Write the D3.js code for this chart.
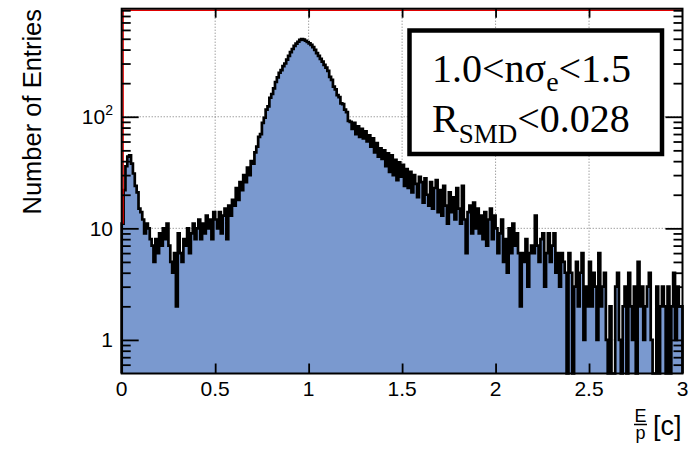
<!DOCTYPE html>
<html>
<head>
<meta charset="utf-8">
<script src="https://cdn.jsdelivr.net/npm/d3@7"></script>
<style>
  body { margin: 0; background: #fff; }
  svg { display: block; }
</style>
</head>
<body>
<svg id="chart" width="693" height="451"></svg>
<script>
// histogram: 300 bins of width 0.01 from 0 to 3
var xMin = 0, xMax = 3, binWidth = 0.01;

// bins 0 - 59  (E/p 0.00 - 0.60)
var countsLow = [
  11, 22, 36, 44, 45, 38, 31, 24, 21, 15,
  14, 12, 9, 11, 10, 8, 7, 5, 8, 6,
  9, 7, 10, 8, 11, 7, 5, 4, 6, 2,
  9, 6, 5, 8, 7, 10, 6, 9, 11, 8,
  10, 12, 8, 11, 9, 13, 10, 12, 8, 14,
  12, 10, 14, 9, 13, 15, 8, 16, 13, 18
];
// bins 60 - 139  (E/p 0.60 - 1.40)
var countsPeak = [
  16, 23, 18, 26, 22, 30, 26, 35, 30, 40,
  38, 48, 54, 66, 70, 88, 98, 116, 124, 148,
  160, 180, 205, 225, 248, 262, 284, 300, 325, 352,
  380, 405, 432, 452, 470, 488, 497, 492, 480, 468,
  455, 440, 420, 398, 372, 352, 330, 312, 292, 276,
  258, 228, 214, 186, 176, 156, 150, 132, 130, 116,
  110, 92, 90, 78, 88, 70, 82, 66, 78, 64,
  74, 60, 68, 54, 64, 48, 58, 44, 52, 42
];
// bins 140 - 299  (E/p 1.40 - 3.00)
var countsTail = [
  50, 36, 47, 32, 45, 30, 41, 27, 39, 29,
  37, 24, 34, 23, 32, 21, 30, 25, 19, 29,
  26, 17, 28, 20, 16, 26, 15, 23, 27, 14,
  22, 13, 24, 16, 11, 21, 14, 19, 12, 23,
  15, 11, 24, 12, 6, 14, 16, 9, 17, 10,
  15, 9, 13, 8, 14, 7, 12, 15, 8, 13,
  10, 6, 9, 12, 5, 8, 4, 10, 6, 11,
  7, 9, 6, 2, 6, 5, 8, 3, 6, 7,
  6, 13, 7, 5, 8, 9, 3, 6, 9, 5,
  7, 9, 4, 6, 3, 6, 5, 4, 0, 6,
  4, 0, 3, 5, 2, 4, 6, 1, 3, 2,
  5, 2, 4, 3, 1, 6, 2, 3, 4, 1,
  0, 2, 0, 0, 3, 4, 1, 0, 2, 3,
  0, 4, 2, 1, 3, 0, 5, 2, 3, 1,
  2, 3, 4, 1, 0, 0, 3, 0, 2, 3,
  2, 0, 3, 0, 2, 4, 1, 3, 2, 2
];

var xTicks = [0, 0.5, 1, 1.5, 2, 2.5, 3];
var xTickLabels = ["0", "0.5", "1", "1.5", "2", "2.5", "3"];
var yMajor = [1, 10, 100];
var yTickLabels = [["1", ""], ["10", ""], ["10", "2"]];
var yMinor = [0.6, 0.7, 0.8, 0.9, 2, 3, 4, 5, 6, 7, 8, 9,
              20, 30, 40, 50, 60, 70, 80, 90, 200, 300, 400, 500, 600, 700, 800, 900];

function draw() {
    var counts = countsLow.concat(countsPeak, countsTail);

    var svg = d3.select('#chart');
    var sans = "'Liberation Sans', Arial, Helvetica, sans-serif";
    var serif = "'Liberation Serif', 'Times New Roman', Times, serif";

    var plotL = 121.7, plotR = 682.5, plotT = 8.7, plotB = 373.5;
    var yMinVal = 0.5;

    var x = d3.scaleLinear().domain([xMin, xMax]).range([plotL, plotR]);
    var y = d3.scaleLog().domain([yMinVal, 930]).range([plotB, plotT]);

    // grid
    var grid = svg.append("g")
        .attr("stroke", "#777")
        .attr("stroke-width", 1)
        .attr("stroke-dasharray", "1,2");
    grid.selectAll("line.vx")
        .data(xTicks.slice(1, -1))
        .enter().append("line")
        .attr("x1", function(d) { return x(d); })
        .attr("x2", function(d) { return x(d); })
        .attr("y1", plotT).attr("y2", plotB);
    grid.selectAll("line.hy")
        .data(yMajor)
        .enter().append("line")
        .attr("y1", function(d) { return y(d); })
        .attr("y2", function(d) { return y(d); })
        .attr("x1", plotL).attr("x2", plotR);

    // histogram points (step after)
    var pts = counts.map(function(c, i) {
        return [xMin + i * binWidth, Math.max(c, yMinVal)];
    });
    pts.push([xMax, Math.max(counts[counts.length - 1], yMinVal)]);

    var area = d3.area()
        .curve(d3.curveStepAfter)
        .x(function(d) { return x(d[0]); })
        .y0(plotB)
        .y1(function(d) { return y(d[1]); });

    svg.append("path")
        .datum(pts)
        .attr("d", area)
        .attr("fill", "#7a99cf");

    var line = d3.line()
        .curve(d3.curveStepAfter)
        .x(function(d) { return x(d[0]); })
        .y(function(d) { return y(d[1]); });

    var outline = [[xMin, yMinVal]].concat(pts, [[xMax, yMinVal]]);
    svg.append("path")
        .datum(outline)
        .attr("d", line)
        .attr("fill", "none")
        .attr("stroke", "#000")
        .attr("stroke-width", 2.7)
        .attr("stroke-linejoin", "miter");

    // red overflow line along left and top
    svg.append("path")
        .attr("d", "M" + (plotL + 1.4) + "," + y(counts[0]) + "V" + (plotT + 1.6) + "H" + plotR)
        .attr("fill", "none")
        .attr("stroke", "#e00000")
        .attr("stroke-width", 1.5);

    // ticks
    function styleAxis(g) {
        g.select(".domain").remove();
        g.selectAll(".tick line").attr("stroke", "#000").attr("stroke-width", 1.8);
        g.selectAll(".tick text").remove();
    }
    svg.append("g").attr("transform", "translate(" + plotL + ",0)")
        .call(d3.axisRight(y).tickValues(yMajor).tickSize(17).tickFormat(""))
        .call(styleAxis);
    svg.append("g").attr("transform", "translate(" + plotL + ",0)")
        .call(d3.axisRight(y).tickValues(yMinor).tickSize(9).tickFormat(""))
        .call(styleAxis);
    svg.append("g").attr("transform", "translate(" + plotR + ",0)")
        .call(d3.axisLeft(y).tickValues(yMajor).tickSize(17).tickFormat(""))
        .call(styleAxis);
    svg.append("g").attr("transform", "translate(" + plotR + ",0)")
        .call(d3.axisLeft(y).tickValues(yMinor).tickSize(9).tickFormat(""))
        .call(styleAxis);
    svg.append("g").attr("transform", "translate(0," + plotB + ")")
        .call(d3.axisTop(x).tickValues(xTicks.slice(1, -1)).tickSize(10).tickFormat(""))
        .call(styleAxis);
    svg.append("g").attr("transform", "translate(0," + plotT + ")")
        .call(d3.axisBottom(x).tickValues(xTicks.slice(1, -1)).tickSize(9).tickFormat(""))
        .call(styleAxis);

    // frame
    svg.append("rect")
        .attr("x", plotL).attr("y", plotT)
        .attr("width", plotR - plotL).attr("height", plotB - plotT)
        .attr("fill", "none")
        .attr("stroke", "#000")
        .attr("stroke-width", 2);

    // x tick labels
    svg.selectAll("text.xl")
        .data(xTicks)
        .enter().append("text")
        .attr("class", "xl")
        .attr("x", function(d) { return x(d); })
        .attr("y", 396)
        .attr("text-anchor", "middle")
        .attr("font-family", sans)
        .attr("font-size", 21)
        .text(function(d, i) { return xTickLabels[i]; });

    // y tick labels
    var yl = svg.selectAll("text.yl")
        .data(yMajor)
        .enter().append("text")
        .attr("class", "yl")
        .attr("x", 113)
        .attr("y", function(d) { return y(d) + 7.5; })
        .attr("text-anchor", "end")
        .attr("font-family", sans)
        .attr("font-size", 21);
    yl.append("tspan").text(function(d, i) { return yTickLabels[i][0]; });
    yl.append("tspan")
        .attr("dy", -9)
        .attr("font-size", 14)
        .text(function(d, i) { return yTickLabels[i][1]; });

    // y title
    svg.append("text")
        .attr("transform", "translate(41,9) rotate(-90)")
        .attr("text-anchor", "end")
        .attr("font-family", sans)
        .attr("font-size", 25.5)
        .text("Number of Entries");

    // x title: E/p [c]
    svg.append("text")
        .attr("x", 640.5).attr("y", 421.5)
        .attr("text-anchor", "middle")
        .attr("font-family", sans).attr("font-size", 18)
        .text("E");
    svg.append("line")
        .attr("x1", 634).attr("x2", 647)
        .attr("y1", 424.5).attr("y2", 424.5)
        .attr("stroke", "#000").attr("stroke-width", 1.5);
    svg.append("text")
        .attr("x", 640.5).attr("y", 438.5)
        .attr("text-anchor", "middle")
        .attr("font-family", sans).attr("font-size", 18)
        .text("p");
    svg.append("text")
        .attr("x", 653).attr("y", 435)
        .attr("font-family", sans).attr("font-size", 27)
        .text("[c]");

    // label box
    svg.append("rect")
        .attr("x", 409.5).attr("y", 30.5)
        .attr("width", 252.5).attr("height", 123.5)
        .attr("fill", "#fff")
        .attr("stroke", "#000")
        .attr("stroke-width", 4.5);

    var t1 = svg.append("text")
        .attr("x", 432).attr("y", 82)
        .attr("font-family", serif).attr("font-size", 40);
    t1.append("tspan").text("1.0<n\u03c3");
    t1.append("tspan").attr("dy", 9).attr("font-size", 28).text("e");
    t1.append("tspan").attr("dy", -9).text("<1.5");

    var t2 = svg.append("text")
        .attr("x", 432).attr("y", 132)
        .attr("font-family", serif).attr("font-size", 40);
    t2.append("tspan").text("R");
    t2.append("tspan").attr("dy", 11).attr("font-size", 27).text("SMD");
    t2.append("tspan").attr("dy", -11).text("<0.028");
}

draw();
</script>
</body>
</html>
